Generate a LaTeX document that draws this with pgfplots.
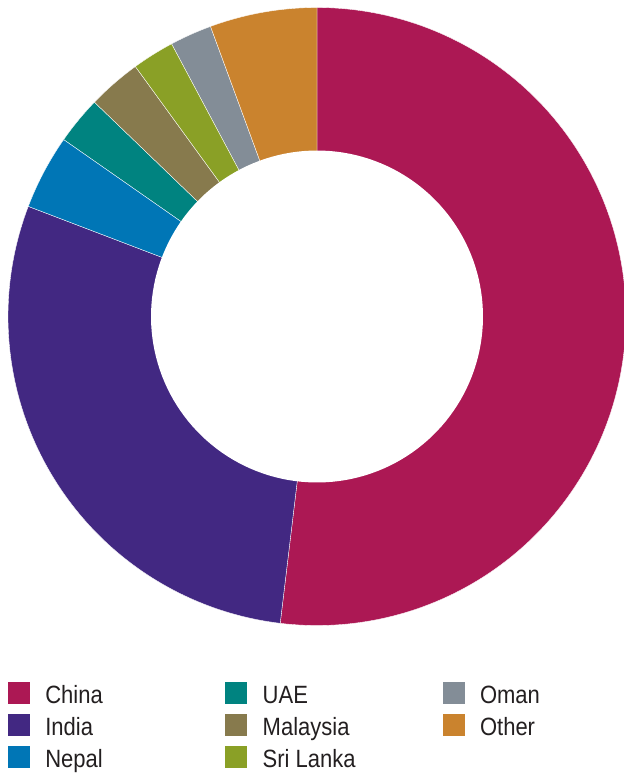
\documentclass[border=0pt]{standalone}
\usepackage{fontspec}
\setmainfont{Liberation Sans}[FakeStretch=0.88]
\usepackage{pgfplots}
\pgfplotsset{compat=1.18}

\definecolor{cChina}{RGB}{172,24,84}
\definecolor{cIndia}{RGB}{66,40,130}
\definecolor{cNepal}{RGB}{0,118,182}
\definecolor{cUAE}{RGB}{0,131,128}
\definecolor{cMalaysia}{RGB}{135,122,77}
\definecolor{cSriLanka}{RGB}{138,160,38}
\definecolor{cOman}{RGB}{131,141,151}
\definecolor{cOther}{RGB}{202,131,46}
\definecolor{legtext}{RGB}{35,31,32}

% shares in percent, clockwise from the top
\def\vChina{51.9}
\def\vIndia{28.9}
\def\vNepal{3.9}
\def\vUAE{2.5}
\def\vMalaysia{2.8}
\def\vSriLanka{2.2}
\def\vOman{2.2}
\def\vOther{5.6}

\pgfmathsetmacro\aA{0}
\pgfmathsetmacro\aB{\aA+3.6*\vChina}
\pgfmathsetmacro\aC{\aB+3.6*\vIndia}
\pgfmathsetmacro\aD{\aC+3.6*\vNepal}
\pgfmathsetmacro\aE{\aD+3.6*\vUAE}
\pgfmathsetmacro\aF{\aE+3.6*\vMalaysia}
\pgfmathsetmacro\aG{\aF+3.6*\vSriLanka}
\pgfmathsetmacro\aH{\aG+3.6*\vOman}
\pgfmathsetmacro\aI{\aH+3.6*\vOther}

\def\cx{317}
\def\cy{316.5}
\def\R{309}
\def\r{166}

\begin{document}
\begin{tikzpicture}
\begin{axis}[
    width=624pt, height=774pt, scale only axis,
    xmin=0, xmax=624, ymin=0, ymax=774,
    y dir=reverse,
    hide axis,
    legend columns=3,
    legend style={at={(axis cs:7,681)}, anchor=north west,
        draw=none, fill=none, inner sep=0pt, outer sep=0pt,
        font=\fontsize{25}{30}\selectfont, text=legtext,
        cells={anchor=base west},
        nodes={inner sep=0pt, text height=18pt, text depth=5pt},
        row sep=5pt,
        /tikz/column sep=0pt,
        /tikz/every odd column/.append style={column sep=15pt}},
    legend image code/.code={\fill[#1] (0pt,-1pt) rectangle (23pt,22pt);},
    every axis plot/.append style={draw=white, line width=0.35pt, samples=90},
]
\path (rel axis cs:0,0) rectangle (rel axis cs:1,1);

\addplot [fill=cChina, domain=\aA:\aB, samples=160]
    ({\cx+\R*sin(x)}, {\cy-\R*cos(x)}) -- (axis cs:\cx,\cy) -- cycle;
\addlegendentry{\makebox[179pt][l]{China}}
\addplot [fill=cUAE, domain=\aD:\aE]
    ({\cx+\R*sin(x)}, {\cy-\R*cos(x)}) -- (axis cs:\cx,\cy) -- cycle;
\addlegendentry{\makebox[179pt][l]{UAE}}
\addplot [fill=cOman, domain=\aG:\aH]
    ({\cx+\R*sin(x)}, {\cy-\R*cos(x)}) -- (axis cs:\cx,\cy) -- cycle;
\addlegendentry{Oman}
\addplot [fill=cIndia, domain=\aB:\aC, samples=120]
    ({\cx+\R*sin(x)}, {\cy-\R*cos(x)}) -- (axis cs:\cx,\cy) -- cycle;
\addlegendentry{\makebox[179pt][l]{India}}
\addplot [fill=cMalaysia, domain=\aE:\aF]
    ({\cx+\R*sin(x)}, {\cy-\R*cos(x)}) -- (axis cs:\cx,\cy) -- cycle;
\addlegendentry{\makebox[179pt][l]{Malaysia}}
\addplot [fill=cOther, domain=\aH:\aI]
    ({\cx+\R*sin(x)}, {\cy-\R*cos(x)}) -- (axis cs:\cx,\cy) -- cycle;
\addlegendentry{Other}
\addplot [fill=cNepal, domain=\aC:\aD]
    ({\cx+\R*sin(x)}, {\cy-\R*cos(x)}) -- (axis cs:\cx,\cy) -- cycle;
\addlegendentry{\makebox[179pt][l]{Nepal}}
\addplot [fill=cSriLanka, domain=\aF:\aG]
    ({\cx+\R*sin(x)}, {\cy-\R*cos(x)}) -- (axis cs:\cx,\cy) -- cycle;
\addlegendentry{\makebox[179pt][l]{Sri Lanka}}

% hole of the doughnut
\addplot [fill=white, draw=none, domain=0:360, samples=160, forget plot]
    ({\cx+\r*sin(x)}, {\cy-\r*cos(x)}) -- cycle;
\end{axis}
\end{tikzpicture}
\end{document}
